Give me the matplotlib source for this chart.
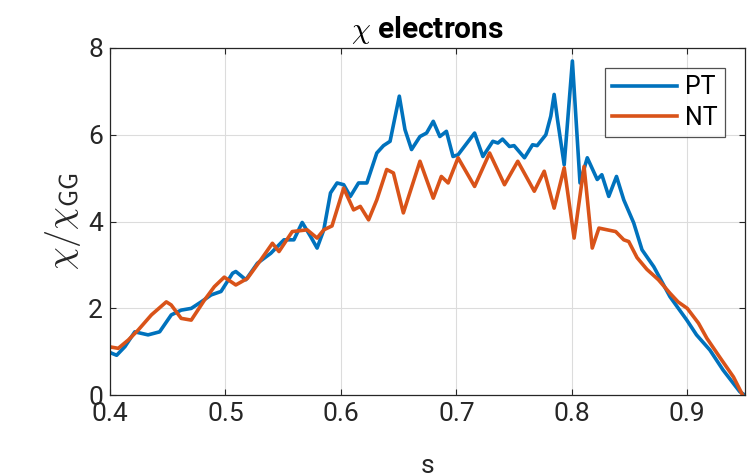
import matplotlib
matplotlib.use('Agg')
import matplotlib.pyplot as plt

# PT curve (blue)
pt_s = [0.3985, 0.4058, 0.413, 0.4215, 0.433, 0.443, 0.4531, 0.4617, 0.4704, 0.479,
        0.4876, 0.4962, 0.5062, 0.509, 0.5177, 0.5277, 0.5393, 0.5507, 0.5593, 0.5665,
        0.5737, 0.5794, 0.5852, 0.591, 0.5967, 0.6024, 0.6082, 0.6153, 0.6225, 0.6311,
        0.6369, 0.6426, 0.6506, 0.6555, 0.6612, 0.6685, 0.6742, 0.68, 0.6857, 0.6914,
        0.6971, 0.7015, 0.7158, 0.723, 0.7316, 0.736, 0.740, 0.746, 0.750, 0.759,
        0.766, 0.770, 0.7775, 0.7818, 0.7847, 0.7876, 0.7934, 0.8005, 0.8071, 0.8134,
        0.822, 0.826, 0.832, 0.8387, 0.845, 0.8536, 0.8608, 0.871, 0.885, 0.8996,
        0.908, 0.9196, 0.931, 0.9455, 0.95]
pt_chi = [1.0, 0.92, 1.12, 1.46, 1.39, 1.46, 1.85, 1.96, 2.0, 2.15,
          2.31, 2.39, 2.81, 2.85, 2.66, 3.04, 3.27, 3.58, 3.58, 3.98,
          3.66, 3.39, 3.81, 4.66, 4.89, 4.85, 4.58, 4.89, 4.89, 5.58,
          5.75, 5.85, 6.89, 6.12, 5.66, 5.96, 6.04, 6.31, 5.96, 6.08,
          5.5, 5.54, 6.04, 5.5, 5.85, 5.81, 5.9, 5.73, 5.75, 5.47,
          5.77, 5.75, 6.0, 6.43, 6.93, 6.35, 5.31, 7.7, 4.89, 5.47,
          4.97, 5.08, 4.58, 5.04, 4.5, 3.97, 3.35, 2.96, 2.27, 1.73,
          1.39, 1.04, 0.58, 0.08, 0.0]

# NT curve (orange)
nt_s = [0.3985, 0.4072, 0.4158, 0.4244, 0.4359, 0.4488, 0.453, 0.4617, 0.4704, 0.4818,
        0.4904, 0.499, 0.509, 0.519, 0.5307, 0.5407, 0.5464, 0.5579, 0.5708, 0.5794,
        0.5852, 0.5923, 0.6024, 0.611, 0.6168, 0.624, 0.6311, 0.6397, 0.6455, 0.6541,
        0.6685, 0.68, 0.687, 0.6929, 0.7015, 0.7158, 0.7288, 0.7417, 0.7532, 0.7675,
        0.7761, 0.7847, 0.7934, 0.802, 0.8106, 0.8177, 0.8235, 0.8307, 0.838, 0.845,
        0.8493, 0.8565, 0.865, 0.875, 0.885, 0.892, 0.9, 0.9097, 0.917, 0.928,
        0.94, 0.948]
nt_chi = [1.12, 1.08, 1.27, 1.5, 1.85, 2.15, 2.08, 1.77, 1.73, 2.19,
          2.5, 2.72, 2.54, 2.69, 3.12, 3.5, 3.31, 3.77, 3.81, 3.62,
          3.81, 3.9, 4.77, 4.27, 4.35, 4.04, 4.5, 5.2, 5.12, 4.2,
          5.39, 4.54, 5.04, 4.89, 5.47, 4.81, 5.58, 4.85, 5.39, 4.70,
          5.16, 4.31, 5.24, 3.62, 5.27, 3.39, 3.85, 3.81, 3.77, 3.58,
          3.54, 3.17, 2.9, 2.66, 2.35, 2.15, 2.0, 1.66, 1.31, 0.88,
          0.42, 0.0]

x_ticks = [0.4, 0.5, 0.6, 0.7, 0.8, 0.9]
y_ticks = [0, 2, 4, 6, 8]

plt.rcParams['font.family'] = ['Roboto', 'DejaVu Sans']
plt.rcParams['mathtext.fontset'] = 'cm'

fig = plt.figure(figsize=(7.48, 4.75), dpi=100)
ax = fig.add_axes([0.147, 0.168, 0.849, 0.731])

ax.plot(pt_s, pt_chi, color='#0072BD', linewidth=2.6, label='PT')
ax.plot(nt_s, nt_chi, color='#D95319', linewidth=2.6, label='NT')

ax.set_xlim(0.4, 0.95)
ax.set_ylim(0, 8)
ax.set_xticks(x_ticks)
ax.set_yticks(y_ticks)
ax.set_xticklabels([f'{v:g}' for v in x_ticks])
ax.grid(True, color='#dcdcdc', linewidth=0.8)
ax.set_axisbelow(True)
ax.tick_params(direction='in', top=True, right=True, labelsize=19,
               colors='#262626', length=4, width=0.8, pad=5)
for sp in ax.spines.values():
    sp.set_color('#262626')
    sp.set_linewidth(0.9)

ax.set_title(r'$\chi$ electrons', fontsize=21.5, fontweight='bold', pad=7)
ax.set_xlabel('s', fontsize=19, color='#262626', labelpad=20)
ax.set_ylabel(r'$\chi/\chi_{\mathsf{GG}}$', fontsize=26, color='#262626', labelpad=4)

leg = ax.legend(loc='upper right', fontsize=18, frameon=True, fancybox=False,
                handlelength=2.6, borderpad=0.3, labelspacing=0.25,
                handletextpad=0.3, borderaxespad=0.8)
leg.get_frame().set_edgecolor('#262626')
leg.get_frame().set_linewidth(0.9)

fig.savefig('out.png', dpi=100)
